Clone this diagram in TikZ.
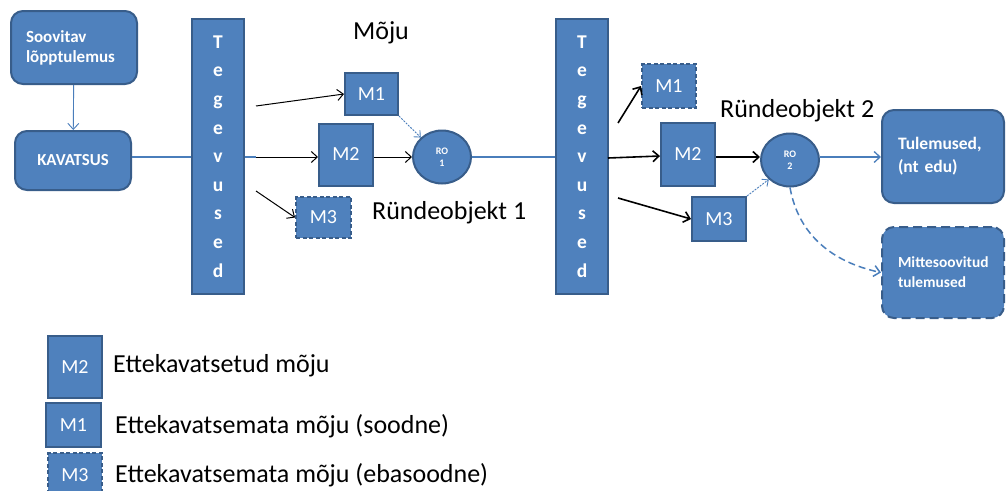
\documentclass[tikz,border=0pt]{standalone}
\usepackage{fontspec}
\setmainfont{Carlito}
\usetikzlibrary{arrows.meta,shapes.geometric}
\definecolor{blu}{HTML}{4F81BD}
\definecolor{bdr}{HTML}{385D8A}
\definecolor{lineblu}{HTML}{4A7EBB}
\tikzset{
  box/.style={draw=bdr, fill=blu, line width=2pt, inner sep=0pt, text=white},
  rbox/.style={box, rounded corners=12pt},
  mbox/.style={box, font=\fontsize{20}{22}\selectfont},
  dbox/.style={dash pattern=on 4pt off 2.5pt},
  ldbox/.style={dash pattern=on 9pt off 5pt},
  tbar/.style={box, minimum width=52pt, minimum height=275pt, align=center,
    font=\fontsize{19.5}{28.6}\selectfont\bfseries},
  ro/.style={box, ellipse, minimum width=58pt, minimum height=53pt, align=center,
    font=\fontsize{10}{12}\selectfont\bfseries},
  bl/.style={draw=lineblu, line width=1.3pt},
  blarr/.style={bl, -{Straight Barb[length=6pt,width=11pt]}},
  karr/.style={draw=black, line width=1pt, -{Straight Barb[length=6pt,width=11pt]}},
  karrb/.style={draw=black, line width=1.6pt, -{Straight Barb[length=6pt,width=11pt]}},
  dotarr/.style={draw=lineblu, line width=0.9pt, dash pattern=on 2pt off 1.2pt, -{Straight Barb[length=5pt,width=9pt]}},
  lbl/.style={font=\fontsize{26}{28}\selectfont, inner sep=0pt},
}
\begin{document}
\begin{tikzpicture}[x=1pt,y=-1pt]
\useasboundingbox (0,0) rectangle (1006,490);
\clip (0,0) rectangle (1006,490);
\fill[white] (0,0) rectangle (1006,490);

% left boxes
\node[rbox, minimum width=126pt, minimum height=73pt, text width=96pt, align=left,
  font=\fontsize{17}{20}\selectfont\bfseries] (soov) at (74,47.5) {Soovitav\\lõpptulemus};
\node[rbox, minimum width=116pt, minimum height=59pt,
  font=\fontsize{16.8}{18}\selectfont\bfseries] (kav) at (73,160.5) {KAVATSUS};
\draw[blarr, line width=0.9pt] (soov) -- (kav);

% activity bars
\node[tbar] (teg1) at (218,156.5) {T\\e\\g\\e\\v\\u\\s\\e\\d};
\node[tbar] (teg2) at (582,156.5) {T\\e\\g\\e\\v\\u\\s\\e\\d};

% stage 1
\node[mbox, minimum width=53pt, minimum height=42pt] (m1a) at (371.5,94) {M1};
\node[mbox, minimum width=54pt, minimum height=62pt] (m2a) at (346,154.5) {M2};
\node[mbox, dbox, minimum width=55pt, minimum height=41pt] (m3a) at (323.5,217.5) {M3};
\node[ro] (ro1) at (442,157) {RO\\1};

\coordinate (s1a) at (256,106);
\coordinate (s1b) at (256,157);
\coordinate (s1c) at (256,191);

\draw[bl] (kav.east |- 0,157) -- (teg1.west |- 0,157);
\draw[bl] (teg1.east |- 0,157) -- (s1b);
\draw[karr] (s1a) -- (m1a.west);
\draw[karr] (s1b) -- (m2a.west |- s1b);
\draw[karr] (s1c) -- (m3a.west);
\draw[karr] (m2a.east |- ro1) -- (ro1.west);
\draw[dotarr] (m1a.south east) -- (ro1.north west);
\draw[bl] (ro1.east) -- (teg2.west |- ro1);

\node[lbl] (moju) at (381,33) {Mõju};
\node[lbl, anchor=west] (rob1) at (372,213) {Ründeobjekt 1};

% stage 2
\node[mbox, dbox, minimum width=54pt, minimum height=44pt] (m1b) at (669,86) {M1};
\node[mbox, minimum width=54pt, minimum height=63pt] (m2b) at (688,154.5) {M2};
\node[mbox, minimum width=54pt, minimum height=44pt] (m3b) at (719,219) {M3};
\node[ro] (ro2) at (790,160) {RO\\2};

\coordinate (s2a) at (618,123);
\coordinate (s2b) at (608,158);
\coordinate (s2c) at (618,198);

\draw[karrb] (s2a) -- (m1b.west);
\draw[karrb] (s2b) -- (m2b.west |- 0,156);
\draw[karrb] (s2c) -- (m3b.west);
\draw[karrb] (m2b.east |- 0,157) -- (ro2.west |- 0,157);
\draw[dotarr] (m3b.north east) -- (ro2.south west);

\node[lbl, anchor=west] (rob2) at (720,111) {Ründeobjekt 2};

% results
\node[rbox, minimum width=122pt, minimum height=93pt, text width=90pt, align=left,
  font=\fontsize{17.5}{23}\selectfont\bfseries] (tul) at (943,156.5) {Tulemused,\\(nt edu)};
\node[rbox, ldbox, minimum width=122pt, minimum height=91pt, text width=90pt, align=left,
  font=\fontsize{15.4}{20}\selectfont\bfseries] (mitte) at (943,272.5) {Mittesoovitud\\tulemused};

\draw[blarr] (ro2.east |- 0,157) -- (tul.west |- 0,157);
\draw[blarr, line width=1.5pt, dash pattern=on 7pt off 4pt] (ro2.south) to[out=-80,in=168] (mitte.west);

% legend
\node[mbox, minimum width=54pt, minimum height=62pt] (lm2) at (75,367) {M2};
\node[mbox, minimum width=55pt, minimum height=44pt] (lm1) at (73.5,425) {M1};
\node[mbox, dbox, minimum width=54pt, minimum height=44pt] (lm3) at (75,475) {M3};
\node[lbl, anchor=west] (t2) at (113,366) {Ettekavatsetud mõju};
\node[lbl, anchor=west] (t1) at (115,426) {Ettekavatsemata mõju (soodne)};
\node[lbl, anchor=west] (t3) at (115,475) {Ettekavatsemata mõju (ebasoodne)};
\end{tikzpicture}
\end{document}
